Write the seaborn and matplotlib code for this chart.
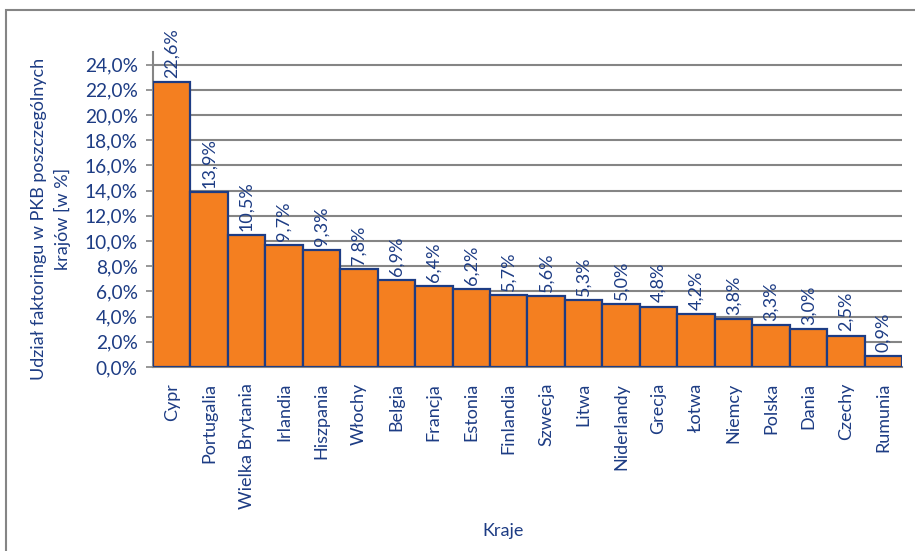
import numpy as np
import pandas as pd
import seaborn as sns
import matplotlib.pyplot as plt
from matplotlib.patches import Rectangle

countries = ["Cypr", "Portugalia", "Wielka Brytania", "Irlandia", "Hiszpania", "Włochy",
             "Belgia", "Francja", "Estonia", "Finlandia", "Szwecja", "Litwa", "Niderlandy",
             "Grecja", "Łotwa", "Niemcy", "Polska", "Dania", "Czechy", "Rumunia"]
share = [22.6, 13.9, 10.5, 9.7, 9.3, 7.8, 6.9, 6.4, 6.2, 5.7, 5.6, 5.3, 5.0,
         4.8, 4.2, 3.8, 3.3, 3.0, 2.5, 0.9]
y_ticks = [0, 2, 4, 6, 8, 10, 12, 14, 16, 18, 20, 22, 24]

navy = "#1d3c84"
orange = "#f47f20"
gray = "#858585"

sns.set_style("white")
plt.rcParams["font.family"] = ["Lato", "DejaVu Sans"]

df = pd.DataFrame({"kraj": countries, "udzial": share})

fig = plt.figure(figsize=(9.15, 5.51), dpi=100)
ax = fig.add_axes([0.1672, 0.3339, 0.8186, 0.5717])

sns.barplot(data=df, x="kraj", y="udzial", color=orange, width=1.0, saturation=1,
            edgecolor=navy, linewidth=1.6, ax=ax, zorder=3)

ax.set_ylim(0, 25)
ax.set_xlim(-0.5, len(countries) - 0.5)
ax.set_yticks(y_ticks)
ax.set_yticklabels([f"{t:.1f}".replace(".", ",") + "%" for t in y_ticks])
ax.yaxis.grid(True, color=gray, linewidth=1.5, zorder=0)
ax.set_axisbelow(True)

for s in ["top", "right"]:
    ax.spines[s].set_visible(False)
for s in ["left", "bottom"]:
    ax.spines[s].set_color(gray)
    ax.spines[s].set_linewidth(1.5)

ax.tick_params(axis="y", left=True, length=5, color=gray, width=1.2,
               labelsize=13.8, labelcolor=navy, pad=6)
ax.tick_params(axis="x", bottom=False, labelsize=13, labelcolor=navy, pad=8,
               labelrotation=90)

for i, v in enumerate(share):
    ax.annotate(f"{v:.1f}".replace(".", ",") + "%", (i, v), xytext=(0, 3),
                textcoords="offset points", rotation=90, ha="center", va="bottom",
                fontsize=13, color=navy)

ax.set_xlabel("Kraje", color=navy, fontsize=13)
ax.xaxis.set_label_coords(0.467, -0.495)
ax.set_ylabel("Udział faktoringu w PKB poszczególnych\nkrajów [w %]", color=navy,
              fontsize=13, linespacing=1.45)
ax.yaxis.set_label_coords(-0.11, 0.47)

fig.patches.append(Rectangle((6 / 915, -0.05), 1.2, 1.05 - 10 / 551,
                             transform=fig.transFigure, fill=False,
                             edgecolor=gray, linewidth=1.5))

fig.savefig("out.png", dpi=100)
